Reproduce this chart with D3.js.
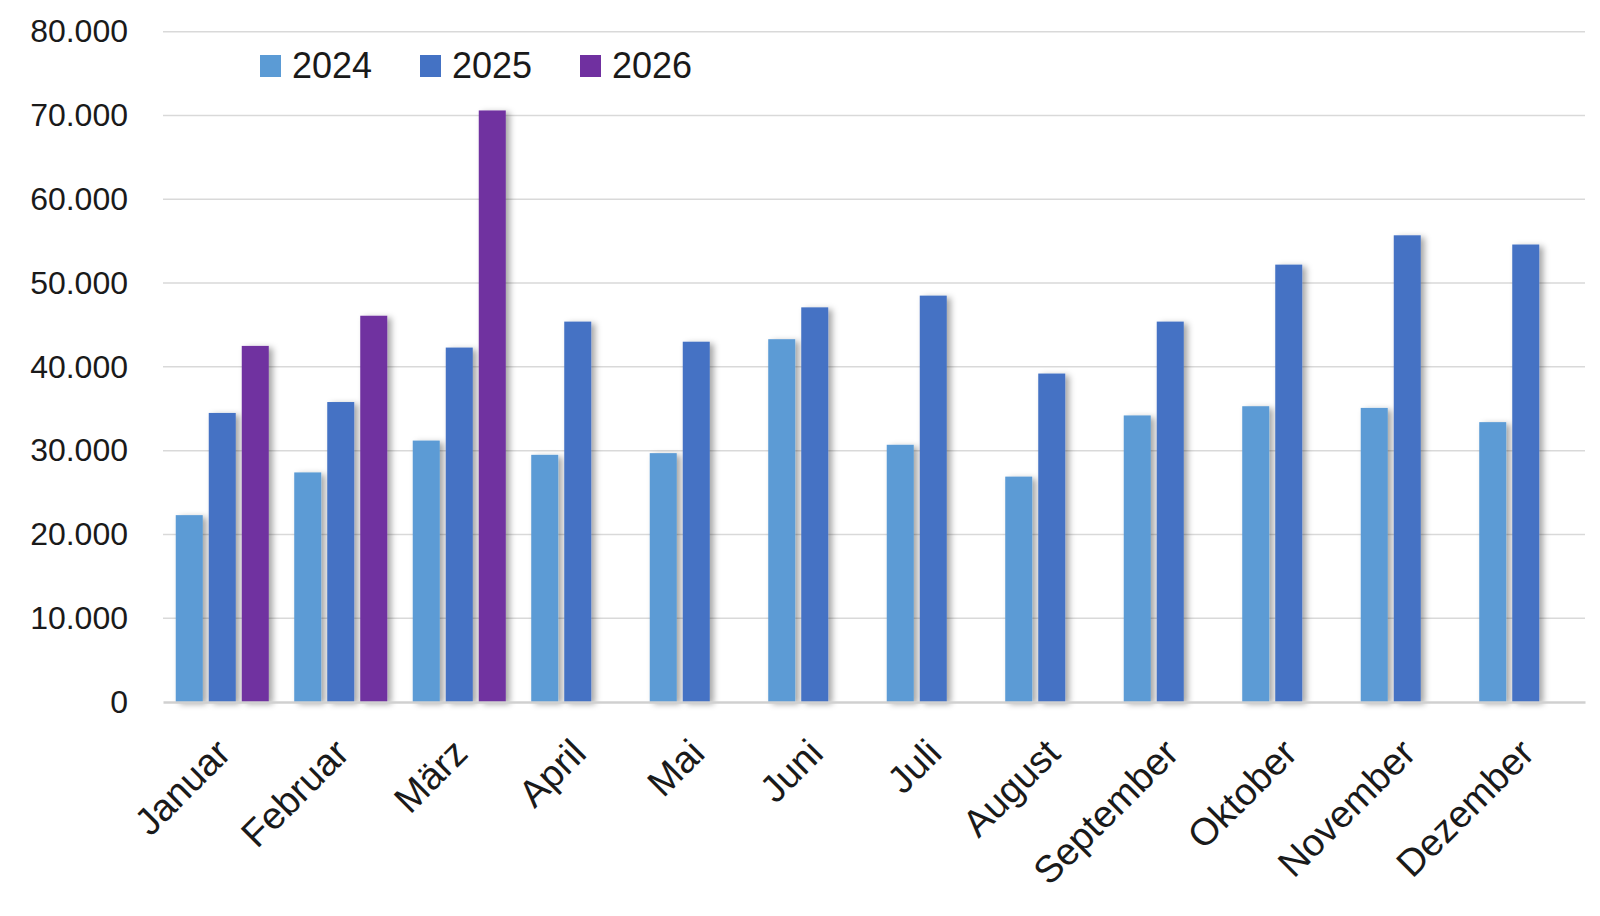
<!DOCTYPE html>
<html>
<head>
<meta charset="utf-8">
<script src="https://cdn.jsdelivr.net/npm/d3@7"></script>
<style>
  body { margin: 0; background: #fff; }
  svg { display: block; font-family: "Liberation Sans", Arial, sans-serif; }
</style>
</head>
<body>
<svg width="1600" height="916"></svg>
<script>
const months = ["Januar", "Februar", "März", "April", "Mai", "Juni", "Juli", "August", "September", "Oktober", "November", "Dezember"];
const seriesNames = ["2024", "2025", "2026"];
const values2024 = [22300, 27400, 31200, 29500, 29700, 43300, 30700, 26900, 34200, 35300, 35100, 33400];
const values2025 = [34500, 35800, 42300, 45400, 43000, 47100, 48500, 39200, 45400, 52200, 55700, 54600];
const values2026 = [42500, 46100, 70600, null, null, null, null, null, null, null, null, null];
const yTicks = [0, 10000, 20000, 30000, 40000, 50000, 60000, 70000, 80000];

const svg = d3.select("svg");
const margin = { top: 31.7, right: 15, bottom: 214, left: 163 };
const width = +svg.attr("width") - margin.left - margin.right;
const height = +svg.attr("height") - margin.top - margin.bottom;

const color = d3.scaleOrdinal()
  .domain(seriesNames)
  .range(["#5B9BD5", "#4472C4", "#7030A0"]);

// drop shadow for the bars
const defs = svg.append("defs");
defs.append("filter")
  .attr("id", "shadow")
  .attr("x", "-30%").attr("y", "-10%")
  .attr("width", "180%").attr("height", "130%")
  .append("feDropShadow")
  .attr("dx", 4).attr("dy", 2)
  .attr("stdDeviation", 3)
  .attr("flood-color", "#000")
  .attr("flood-opacity", 0.35);

const chart = svg.append("g").attr("transform", `translate(${margin.left},${margin.top})`);

const x0 = d3.scaleBand()
  .domain(months)
  .range([0, width])
  .paddingInner(0.215)
  .paddingOuter(0.1075);

const x1 = d3.scaleBand()
  .domain(seriesNames)
  .range([0, x0.bandwidth()])
  .paddingInner(0.182);

const y = d3.scaleLinear()
  .domain([0, 80000])
  .range([height, 0]);

const de = d3.formatLocale({ decimal: ",", thousands: ".", grouping: [3], currency: ["", " €"] });
const fmt = de.format(",d");

// Gridlines
chart.append("g")
  .selectAll("line")
  .data(yTicks.filter(d => d > 0))
  .join("line")
  .attr("x1", 0)
  .attr("x2", width)
  .attr("y1", d => y(d))
  .attr("y2", d => y(d))
  .attr("stroke", "#D9D9D9")
  .attr("stroke-width", 1.5);

// Y axis labels
const yAxis = chart.append("g")
  .call(d3.axisLeft(y).tickValues(yTicks).tickFormat(fmt).tickSize(0).tickPadding(35));
yAxis.select(".domain").remove();
yAxis.selectAll("text")
  .attr("font-size", 32)
  .attr("font-family", "Liberation Sans, Arial, sans-serif")
  .attr("fill", "#1a1a1a");

// Bars
const data = months.map((m, i) => ({
  month: m,
  values: [
    { key: "2024", value: values2024[i] },
    { key: "2025", value: values2025[i] },
    { key: "2026", value: values2026[i] }
  ].filter(d => d.value != null)
}));

chart.append("g")
  .selectAll("g")
  .data(data)
  .join("g")
  .attr("transform", d => `translate(${x0(d.month)},0)`)
  .selectAll("rect")
  .data(d => d.values)
  .join("rect")
  .attr("x", d => x1(d.key))
  .attr("y", d => y(d.value))
  .attr("width", x1.bandwidth())
  .attr("height", d => height - y(d.value))
  .attr("fill", d => color(d.key))
  .attr("filter", "url(#shadow)");

// X axis baseline + labels
const xAxis = chart.append("g")
  .attr("transform", `translate(0,${height})`)
  .call(d3.axisBottom(x0).tickSize(0).tickPadding(0));
xAxis.select(".domain")
  .attr("stroke", "#D0D0D0")
  .attr("stroke-width", 2.5);
xAxis.selectAll("text")
  .attr("font-size", 38)
  .attr("font-family", "Liberation Sans, Arial, sans-serif")
  .attr("fill", "#1a1a1a")
  .attr("text-anchor", "end")
  .attr("dy", "0.35em")
  .attr("transform", "translate(1,44) rotate(-45)");

// Legend
const legend = svg.append("g")
  .attr("transform", "translate(260,55)");

seriesNames.forEach((s, i) => {
  const row = legend.append("g")
    .attr("transform", `translate(${i * 160},0)`);
  row.append("rect")
    .attr("width", 21)
    .attr("height", 22)
    .attr("fill", color(s));
  row.append("text")
    .attr("x", 32)
    .attr("y", 23)
    .attr("font-size", 36)
    .attr("fill", "#1a1a1a")
    .text(s);
});
</script>
</body>
</html>
